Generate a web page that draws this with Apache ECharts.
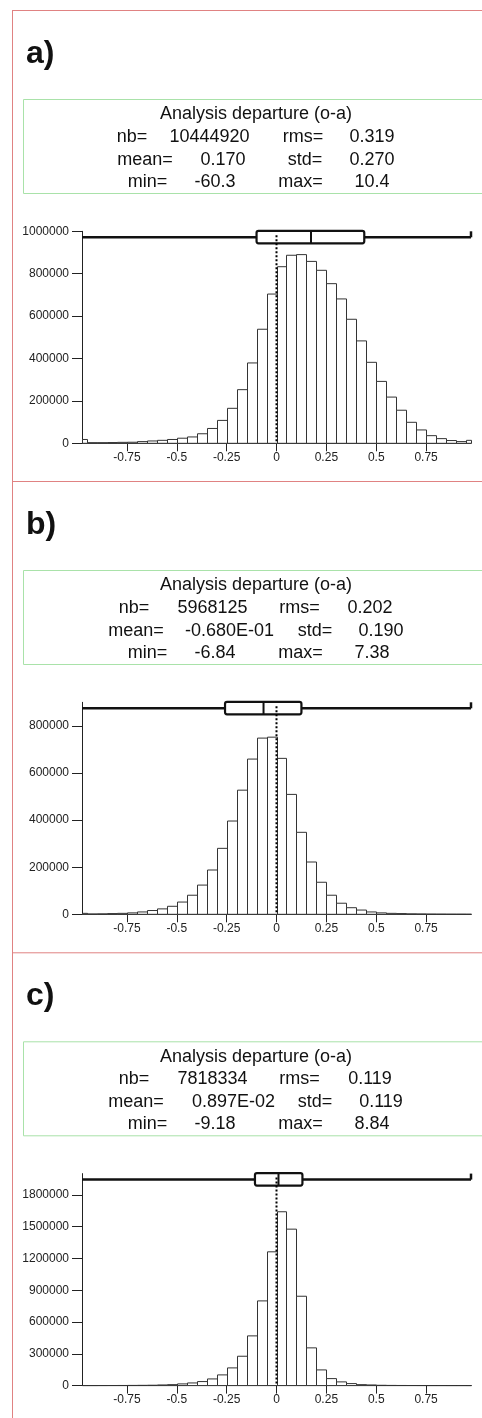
<!DOCTYPE html>
<html>
<head>
<meta charset="UTF-8">
<title>Analysis departure (o-a)</title>
<style>
  html, body { margin: 0; padding: 0; background: #fff; }
  #chart { width: 482px; height: 1418px; }
</style>
<script src="https://cdn.jsdelivr.net/npm/echarts@6/dist/echarts.min.js"></script>
</head>
<body>
<div id="chart"></div>
<script>
// histogram bins, the two outer ones are cut at the axis limits
var binEdges = [-0.975, -0.95, -0.9, -0.85, -0.8, -0.75, -0.7, -0.65, -0.6, -0.55, -0.5,
  -0.45, -0.4, -0.35, -0.3, -0.25, -0.2, -0.15, -0.1, -0.05, 0,
  0.05, 0.1, 0.15, 0.2, 0.25, 0.3, 0.35, 0.4, 0.45, 0.5,
  0.55, 0.6, 0.65, 0.7, 0.75, 0.8, 0.85, 0.9, 0.95, 0.975];

var countsA = [18000, 3000, 3000, 3500, 4500, 5000, 8000, 11000, 14000, 18000,
  24000, 30000, 45000, 70000, 108000, 165000, 253000, 379000, 538000, 704000,
  833000, 887000, 890000, 858000, 816000, 753000, 681000, 585000, 483000, 382000,
  292000, 218000, 156000, 99000, 63000, 36000, 22000, 13000, 8000, 14000];
var countsB = [4000, 1500, 2000, 3000, 4000, 6000, 10000, 16000, 23000, 34000,
  52000, 81000, 124000, 188000, 280000, 396000, 527000, 659000, 748000, 752000,
  662000, 509000, 348000, 222000, 136000, 81000, 47000, 28000, 18000, 10000,
  6000, 4000, 3000, 2000, 1500, 1000, 800, 600, 500, 400];
var countsC = [400, 500, 700, 900, 1200, 1800, 2500, 3500, 6000, 9000,
  16000, 25000, 38000, 63000, 101000, 167000, 277000, 469000, 799000, 1262000,
  1640000, 1476000, 843000, 356000, 148000, 66000, 35000, 19000, 9000, 6000,
  3000, 1800, 1200, 900, 700, 500, 400, 300, 300, 200];

// q1, median, q3
var boxA = [-0.1, 0.173, 0.44];
var boxB = [-0.258, -0.065, 0.125];
var boxC = [-0.108, 0.01, 0.13];

var yMax = [1000000, 900000, 2000000];
var yTicksA = [0, 200000, 400000, 600000, 800000, 1000000];
var yTicksB = [0, 200000, 400000, 600000, 800000];
var yTicksC = [0, 300000, 600000, 900000, 1200000, 1500000, 1800000];
var xTicks = [-0.75, -0.5, -0.25, 0, 0.25, 0.5, 0.75];

var panelLabels = ['a)', 'b)', 'c)'];
var statTitle = 'Analysis departure (o-a)';
var statKeys = ['nb=', 'rms=', 'mean=', 'std=', 'min=', 'max='];
var statsA = ['10444920', '0.319', '0.170', '0.270', '-60.3', '10.4'];
var statsB = ['5968125', '0.202', '-0.680E-01', '0.190', '-6.84', '7.38'];
var statsC = ['7818334', '0.119', '0.897E-02', '0.119', '-9.18', '8.84'];

var chart = echarts.init(document.getElementById('chart'));
var FONT = '"Liberation Sans", Arial, Helvetica, sans-serif';

var panelTop = [0, 471, 942.3];
var counts = [countsA, countsB, countsC];
var boxes = [boxA, boxB, boxC];
var yTicks = [yTicksA, yTicksB, yTicksC];
var stats = [statsA, statsB, statsC];

// x centres of the text tokens in each row: key, value, key, value
var statX = [
  [[132, 209.5, 303, 372], [145, 223, 305, 372], [147.5, 215, 300.5, 372]],
  [[134, 212.5, 299.5, 370], [136, 229.5, 315, 381], [147.5, 215, 300.5, 372]],
  [[134, 212.5, 299.5, 370], [136, 233.5, 315, 381], [147.5, 215, 300.5, 372]]
];
var rowY = [137, 159.7, 182];

function renderBar(params, api) {
  var p0 = api.coord([api.value(0), 0]);
  var p1 = api.coord([api.value(1), api.value(2)]);
  return {
    type: 'rect',
    shape: { x: Math.round(p0[0]) + 0.5, y: p1[1], width: Math.round(p1[0]) - Math.round(p0[0]), height: p0[1] - p1[1] },
    style: { fill: '#fff', stroke: '#333', lineWidth: 1 }
  };
}

function renderBox(params, api) {
  var cs = params.coordSys;
  var top = cs.y;
  var yLine = top + 6;
  var xq1 = api.coord([api.value(0), 0])[0];
  var xmed = api.coord([api.value(1), 0])[0];
  var xq3 = api.coord([api.value(2), 0])[0];
  var zero = api.coord([0, 0]);
  var ink = { stroke: '#111', lineWidth: 2.5 };
  return {
    type: 'group',
    children: [
      { type: 'line', shape: { x1: cs.x, y1: yLine, x2: cs.x + cs.width, y2: yLine }, style: ink },
      { type: 'line', shape: { x1: cs.x + cs.width, y1: top, x2: cs.x + cs.width, y2: yLine }, style: ink },
      { type: 'rect', shape: { x: xq1, y: top - 0.5, width: xq3 - xq1, height: 12.5, r: 2 },
        style: { fill: '#fff', stroke: '#111', lineWidth: 2.2 } },
      { type: 'line', shape: { x1: xmed, y1: top, x2: xmed, y2: top + 12 }, style: { stroke: '#111', lineWidth: 2 } },
      { type: 'line', shape: { x1: zero[0], y1: top + 4, x2: zero[0], y2: zero[1] },
        style: { stroke: '#000', lineWidth: 2, lineDash: [2, 2] } }
    ]
  };
}

function plain(v) { return String(v); }

var grids = [], xAxes = [], yAxes = [], series = [], graphics = [];

graphics.push({ type: 'line', shape: { x1: 12.5, y1: 10, x2: 12.5, y2: 1418 }, style: { stroke: '#e08282', lineWidth: 1 } });

for (var k = 0; k < 3; k++) {
  var P = panelTop[k];
  grids.push({ left: 82, right: 11, top: 231.3 + P, height: 212 });
  xAxes.push({
    gridIndex: k, type: 'value', min: -0.975, max: 0.975,
    axisLine: { show: true, onZero: false, lineStyle: { color: '#222', width: 1 } },
    axisTick: { show: true, length: 8, customValues: xTicks, lineStyle: { color: '#222' } },
    axisLabel: { customValues: xTicks, formatter: plain, margin: 8, fontSize: 12, color: '#222', fontFamily: FONT },
    splitLine: { show: false }
  });
  yAxes.push({
    gridIndex: k, type: 'value', min: 0, max: yMax[k],
    axisLine: { show: true, onZero: false, lineStyle: { color: '#222', width: 1 } },
    axisTick: { show: true, length: 10, customValues: yTicks[k], lineStyle: { color: '#222' } },
    axisLabel: { customValues: yTicks[k], formatter: plain, margin: 13, fontSize: 12, color: '#222', fontFamily: FONT },
    splitLine: { show: false }
  });

  var barData = [];
  for (var i = 0; i < counts[k].length; i++) {
    barData.push([binEdges[i], binEdges[i + 1], counts[k][i]]);
  }
  series.push({
    type: 'custom', xAxisIndex: k, yAxisIndex: k, renderItem: renderBar,
    encode: { x: [0, 1], y: 2 }, data: barData, z: 2
  });
  series.push({
    type: 'custom', xAxisIndex: k, yAxisIndex: k, renderItem: renderBox, clip: false,
    encode: { x: [0, 1, 2] }, data: [boxes[k]], z: 5
  });

  // frame, panel letter and statistics box
  graphics.push({ type: 'line', shape: { x1: 12, y1: 10.5 + P, x2: 482, y2: 10.5 + P }, style: { stroke: '#e08282', lineWidth: 1 } });
  graphics.push({ type: 'rect', shape: { x: 23.5, y: 99.5 + P, width: 470, height: 94 }, style: { fill: null, stroke: '#a9e2a9', lineWidth: 1 } });
  graphics.push({ type: 'text', x: 26, y: 54 + P,
    style: { text: panelLabels[k], font: 'bold 32px ' + FONT, fill: '#111', textAlign: 'left', textVerticalAlign: 'middle' } });
  graphics.push({ type: 'text', x: 256, y: 114.5 + P,
    style: { text: statTitle, font: '18px ' + FONT, fill: '#111', textAlign: 'center', textVerticalAlign: 'middle' } });
  for (var r = 0; r < 3; r++) {
    var toks = [statKeys[2 * r], stats[k][2 * r], statKeys[2 * r + 1], stats[k][2 * r + 1]];
    for (var t = 0; t < 4; t++) {
      graphics.push({ type: 'text', x: statX[k][r][t], y: rowY[r] + P,
        style: { text: toks[t], font: '18px ' + FONT, fill: '#111', textAlign: 'center', textVerticalAlign: 'middle' } });
    }
  }
}

chart.setOption({
  animation: false,
  backgroundColor: '#fff',
  textStyle: { fontFamily: FONT },
  grid: grids,
  xAxis: xAxes,
  yAxis: yAxes,
  series: series,
  graphic: graphics
});
</script>
</body>
</html>
